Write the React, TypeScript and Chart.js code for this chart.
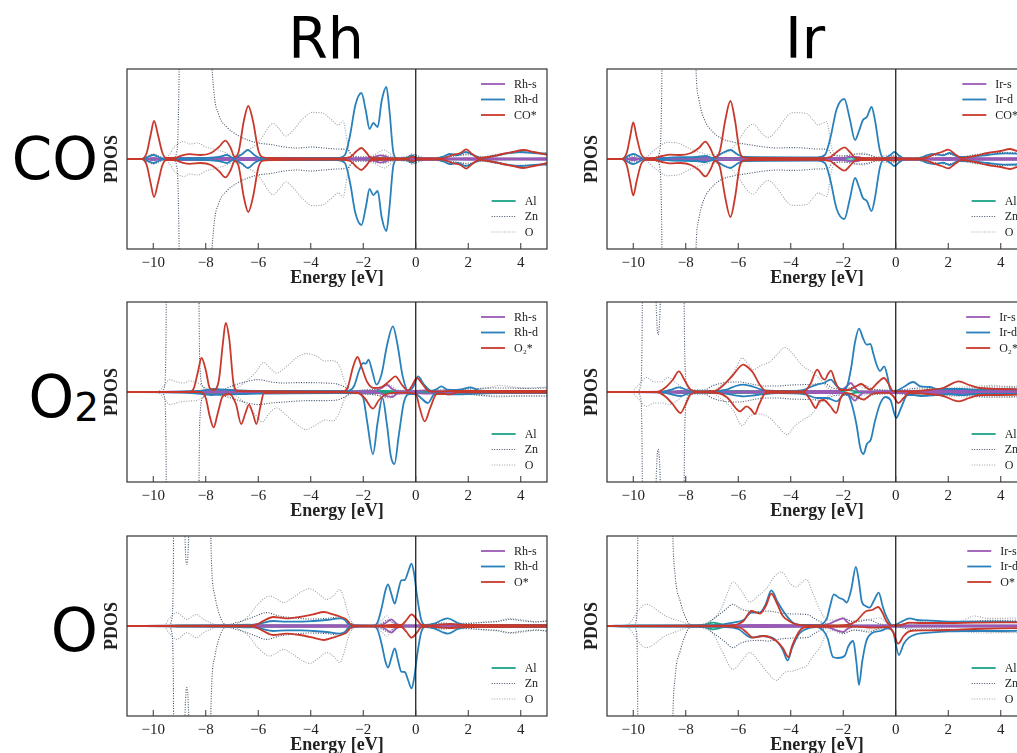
import React, { useEffect, useRef } from "react";
import { Chart, registerables } from "chart.js";
Chart.register(...registerables);

type Pts = [number, number][];

const X_MIN = -11;
const X_MAX = 5;
const Y_LIM = 4.5;
const xTickValues = [-10, -8, -6, -4, -2, 0, 2, 4];
const xTickLabels = ["\u221210", "\u22128", "\u22126", "\u22124", "\u22122", "0", "2", "4"];
const columnTitles = ["Rh", "Ir"];
const adsLabels = ["CO*", "O\u2082*", "O*"];
const substrateLabels = ["Al", "Zn", "O"];

// ---------- Rh / CO* (spin up = spin down) ----------
const rhCO_ads: Pts = [[-11,0],[-10.45,0],[-10.25,0.3],[-10.1,1.2],[-9.97,1.9],[-9.82,1.2],[-9.65,0.3],[-9.5,0.05],[-9.2,0.05],[-8.9,0.18],[-8.6,0.24],[-8.2,0.2],[-7.8,0.3],[-7.5,0.6],[-7.25,0.92],[-7.05,0.55],[-6.9,0.1],[-6.75,0.35],[-6.55,1.9],[-6.38,2.65],[-6.2,1.9],[-6.0,0.45],[-5.85,0.1],[-5.5,0.05],[-3,0.03],[-2.5,0.1],[-2.25,0.4],[-2.07,0.55],[-1.9,0.35],[-1.7,0.05],[-0.3,0.03],[-0.12,0.12],[0.05,0.03],[1.0,0.03],[1.4,0.2],[1.7,0.3],[1.92,0.48],[2.15,0.25],[2.4,0.05],[2.8,0.1],[3.3,0.25],[3.7,0.35],[4.1,0.45],[4.5,0.35],[5,0.2]];
const rhCO_d: Pts = [[-11,0],[-10.4,0],[-10.2,0.1],[-10,0.2],[-9.8,0.1],[-9.6,0.02],[-9,0.03],[-8,0.05],[-7.5,0.1],[-7.2,0.2],[-6.95,0.05],[-6.6,0.25],[-6.4,0.45],[-6.15,0.2],[-5.9,0.05],[-3,0.05],[-2.7,0.2],[-2.5,1.2],[-2.3,2.7],[-2.07,3.3],[-1.9,2.4],[-1.76,1.5],[-1.62,1.8],[-1.45,1.6],[-1.3,2.9],[-1.12,3.6],[-1.0,2.4],[-0.85,0.3],[-0.7,0.02],[-0.35,0.05],[-0.15,0.18],[0.05,0.05],[0.3,0.02],[0.8,0.03],[1.1,0.15],[1.3,0.25],[1.6,0.2],[1.9,0.35],[2.2,0.2],[2.5,0.05],[3,0.15],[3.5,0.28],[4,0.35],[4.5,0.3],[5,0.25]];
const rhCO_s: Pts = [[-11,0],[-10.3,0],[-10,0.06],[-9.7,0],[-9,0.05],[-6,0.05],[-4,0.04],[-2,0.04],[-1.6,0.08],[-1.35,0.18],[-1.15,0.12],[-0.9,0.02],[0,0.05],[1,0.03],[2,0.04],[3,0.03],[5,0.04]];
const rhCO_al: Pts = [[-11,0],[-10.2,0],[-10,0.04],[-9.8,0],[-8,0.03],[-6.3,0.06],[-4,0.04],[-2,0.02],[-1.6,0.05],[0,0.02],[2,0.02],[5,0.02]];
const rhCO_zn: Pts = [[-11,0],[-10.4,0],[-10.2,0.15],[-10,0.25],[-9.8,0.15],[-9.55,0.03],[-9.2,0.1],[-9.08,0.6],[-9.03,3],[-8.98,8],[-8.9,14],[-7.9,14],[-7.8,6],[-7.7,3.5],[-7.5,2.2],[-7.2,1.6],[-6.8,1.2],[-6.4,0.95],[-6,0.8],[-5.5,0.72],[-5,0.6],[-4.5,0.55],[-4,0.6],[-3.5,0.55],[-3,0.5],[-2.6,0.45],[-2.4,0.15],[-2.0,0.1],[-1.5,0.15],[-1.2,0.2],[-1.0,0.12],[-0.8,0.03],[-0.3,0.1],[-0.15,0.25],[0,0.2],[0.2,0.1],[0.5,0.02],[1,0.1],[1.5,0.15],[2,0.25],[2.5,0.1],[3,0.2],[3.5,0.3],[4,0.35],[4.5,0.3],[5,0.3]];
const rhCO_o: Pts = [[-11,0],[-9.6,0],[-9.4,0.2],[-9.2,0.6],[-8.85,0.87],[-8.6,0.75],[-8.3,0.8],[-8.0,0.6],[-7.7,0.5],[-7.3,0.35],[-7.0,0.2],[-6.8,0.2],[-6.5,0.4],[-6.2,0.6],[-5.9,1.0],[-5.6,1.6],[-5.43,1.78],[-5.2,1.5],[-4.95,1.15],[-4.7,1.4],[-4.3,2.0],[-3.95,2.33],[-3.55,2.3],[-3.2,1.95],[-2.95,1.7],[-2.77,1.9],[-2.6,0.8],[-2.45,0.2],[-2,0.1],[-1.6,0.2],[-1.2,0.45],[-1.0,0.3],[-0.8,0.05],[-0.2,0.15],[0,0.12],[0.3,0.03],[1,0.1],[2,0.2],[2.5,0.1],[3,0.2],[3.5,0.3],[4,0.3],[4.5,0.28],[5,0.32]];

// ---------- Ir / CO* (spin up = spin down) ----------
const irCO_ads: Pts = [[-11,0],[-10.45,0],[-10.25,0.3],[-10.12,1.1],[-10,1.83],[-9.87,1.1],[-9.7,0.25],[-9.5,0.04],[-9.2,0.05],[-8.9,0.15],[-8.6,0.22],[-8.2,0.2],[-7.8,0.3],[-7.5,0.55],[-7.25,0.87],[-7.05,0.5],[-6.9,0.1],[-6.7,0.4],[-6.5,1.9],[-6.3,2.9],[-6.12,1.9],[-5.95,0.4],[-5.8,0.08],[-5.4,0.05],[-3,0.04],[-2.5,0.1],[-2.2,0.4],[-1.95,0.58],[-1.75,0.35],[-1.5,0.05],[-0.3,0.04],[-0.1,0.08],[0.1,0.03],[1,0.03],[1.5,0.25],[1.75,0.35],[2,0.47],[2.25,0.25],[2.5,0.05],[3,0.15],[3.5,0.3],[4,0.4],[4.35,0.5],[4.7,0.35],[5,0.25]];
const irCO_d: Pts = [[-11,0],[-10.4,0],[-10.2,0.15],[-10,0.25],[-9.8,0.15],[-9.6,0.02],[-9,0.03],[-8.5,0.08],[-7.6,0.1],[-7.25,0.15],[-6.95,0.05],[-6.6,0.3],[-6.3,0.45],[-6.05,0.25],[-5.8,0.1],[-3,0.08],[-2.7,0.2],[-2.5,1.0],[-2.25,2.5],[-1.96,3.0],[-1.75,2.0],[-1.55,0.95],[-1.4,1.4],[-1.25,1.95],[-1.1,2.1],[-0.92,2.6],[-0.8,2.0],[-0.6,0.4],[-0.45,0.03],[-0.2,0.2],[-0.05,0.35],[0.1,0.2],[0.35,0.02],[0.9,0.03],[1.2,0.2],[1.5,0.25],[1.8,0.18],[2.05,0.3],[2.4,0.1],[3,0.12],[3.5,0.2],[4.2,0.28],[5,0.25]];
const irCO_s: Pts = [[-11,0],[-10.3,0],[-10,0.05],[-9.7,0],[-9,0.05],[-6.3,0.06],[-4,0.04],[-2,0.05],[-1.8,0.1],[-1.6,0.12],[-1.3,0.06],[-0.9,0.02],[0,0.06],[1,0.03],[2,0.05],[3,0.04],[5,0.05]];
const irCO_al: Pts = [[-11,0],[-10.2,0],[-10,0.04],[-9.8,0],[-8,0.03],[-6.3,0.06],[-4,0.04],[-2,0.04],[-1.7,0.07],[-1.4,0.02],[0,0.02],[2,0.02],[5,0.02]];
const irCO_zn: Pts = [[-11,0],[-10.4,0],[-10.2,0.1],[-10,0.15],[-9.8,0.1],[-9.5,0.02],[-9.1,0.1],[-8.97,0.6],[-8.92,3],[-8.88,8],[-8.8,14],[-7.7,14],[-7.62,5],[-7.5,3],[-7.3,2],[-7.0,1.4],[-6.6,1.0],[-6.2,0.85],[-5.5,0.7],[-5,0.6],[-4.5,0.55],[-4,0.57],[-3.5,0.55],[-3,0.5],[-2.6,0.48],[-2.4,0.2],[-2,0.15],[-1.5,0.25],[-1.0,0.2],[-0.6,0.05],[-0.1,0.15],[0.2,0.05],[0.6,0.02],[1,0.1],[1.5,0.18],[2,0.25],[2.5,0.1],[3,0.2],[3.5,0.28],[4,0.32],[4.5,0.3],[5,0.3]];
const irCO_o: Pts = [[-11,0],[-9.6,0],[-9.4,0.2],[-9.1,0.55],[-8.7,0.83],[-8.3,0.8],[-7.9,0.55],[-7.5,0.35],[-7.0,0.2],[-6.7,0.25],[-6.3,0.45],[-6.0,0.9],[-5.7,1.5],[-5.43,1.75],[-5.15,1.35],[-4.86,1.08],[-4.5,1.5],[-4.1,2.2],[-3.9,2.32],[-3.4,2.28],[-3.15,1.95],[-2.95,1.7],[-2.63,1.87],[-2.45,0.6],[-2.3,0.2],[-2,0.15],[-1.5,0.25],[-1.2,0.3],[-0.8,0.1],[-0.2,0.2],[0.1,0.12],[0.4,0.03],[1,0.1],[2,0.25],[2.5,0.12],[3,0.22],[3.5,0.3],[4,0.35],[4.5,0.32],[5,0.35]];

// ---------- Rh / O2* ----------
const rhO2_ads_up: Pts = [[-11,0],[-8.6,0],[-8.45,0.2],[-8.3,1.0],[-8.16,1.7],[-8.0,1.1],[-7.85,0.2],[-7.7,0.1],[-7.5,0.6],[-7.35,2.4],[-7.24,3.45],[-7.1,2.6],[-6.95,0.5],[-6.8,0.05],[-2.8,0.02],[-2.6,0.2],[-2.4,1.2],[-2.22,1.75],[-2.05,1.2],[-1.85,0.5],[-1.6,0.2],[-1.3,0.25],[-1.0,0.55],[-0.77,0.78],[-0.55,0.4],[-0.3,0.07],[-0.15,0.3],[0.05,0.7],[0.25,0.4],[0.5,0.05],[0.8,0.02],[1.3,0.05],[2,0.05],[5,0.05]];
const rhO2_ads_dn: Pts = [[-11,0],[-8.2,0],[-8.0,0.3],[-7.85,1.2],[-7.7,1.77],[-7.55,1.1],[-7.35,0.2],[-7.1,0.1],[-6.85,0.6],[-6.65,1.6],[-6.5,1.1],[-6.35,0.63],[-6.2,1.1],[-6.07,1.6],[-5.93,0.8],[-5.78,0.05],[-2.8,0.02],[-2.2,0.05],[-1.95,0.3],[-1.63,0.83],[-1.4,0.4],[-1.1,0.1],[-0.5,0.03],[0,0.1],[0.15,0.8],[0.34,1.47],[0.55,0.8],[0.8,0.1],[1.0,0.1],[1.3,0.12],[1.6,0.02],[5,0.03]];
const rhO2_d_up: Pts = [[-11,0],[-9,0.02],[-8.3,0.05],[-8,0.1],[-7.7,0.15],[-7.3,0.12],[-7,0.1],[-6,0.05],[-3,0.05],[-2.6,0.05],[-2.35,0.3],[-2.15,1.1],[-2.0,1.45],[-1.9,1.42],[-1.8,1.62],[-1.65,1.0],[-1.5,0.37],[-1.3,0.9],[-1.1,2.3],[-0.87,3.28],[-0.7,2.4],[-0.5,0.8],[-0.3,0.08],[-0.1,0.25],[0.09,0.78],[0.3,0.4],[0.6,0.05],[0.8,0.15],[0.97,0.28],[1.2,0.12],[1.6,0.1],[2.1,0.23],[2.4,0.08],[3,0.05],[5,0.05]];
const rhO2_d_dn: Pts = [[-11,0],[-9,0.02],[-8.3,0.08],[-7.8,0.15],[-7.2,0.12],[-6.5,0.1],[-6,0.08],[-3,0.05],[-2.2,0.05],[-2.0,0.3],[-1.85,1.5],[-1.63,3.1],[-1.45,1.5],[-1.27,0.3],[-1.1,1.6],[-0.95,3.2],[-0.81,3.6],[-0.65,2.2],[-0.45,0.5],[-0.22,0.1],[0,0.1],[0.2,0.3],[0.46,0.55],[0.7,0.1],[0.9,0.03],[1.2,0.12],[2,0.1],[3,0.05],[5,0.05]];
const rhO2_s_up: Pts = [[-11,0],[-9,0.02],[-7,0.04],[-3,0.03],[-1.6,0.05],[-1.3,0.2],[-1.1,0.37],[-0.9,0.15],[-0.6,0.03],[0,0.05],[0.4,0.08],[1,0.03],[5,0.04]];
const rhO2_s_dn: Pts = [[-11,0],[-9,0.02],[-7,0.04],[-3,0.03],[-1.4,0.05],[-1.1,0.2],[-0.9,0.25],[-0.7,0.08],[0,0.05],[0.4,0.08],[1,0.03],[5,0.04]];
const rhO2_al: Pts = [[-11,0],[-9.5,0],[-8.5,0.03],[-7.5,0.06],[-6,0.05],[-4.5,0.05],[-3,0.03],[-1.2,0.05],[0,0.02],[5,0.02]];
const rhO2_zn_up: Pts = [[-11,0],[-9.7,0],[-9.58,0.2],[-9.52,2],[-9.47,10],[-8.3,10],[-8.23,1.5],[-8.1,0.25],[-7.8,0.1],[-7.3,0.15],[-7.0,0.3],[-6.5,0.5],[-6.0,0.62],[-5.5,0.5],[-5,0.45],[-4.5,0.47],[-4,0.47],[-3.5,0.45],[-3,0.4],[-2.7,0.25],[-2.4,0.05],[-2,0.1],[-1.5,0.15],[-1.1,0.3],[-0.8,0.1],[0,0.05],[1,0.1],[2,0.15],[3,0.2],[3.5,0.2],[4,0.18],[5,0.2]];
const rhO2_zn_dn: Pts = [[-11,0],[-9.7,0],[-9.58,0.2],[-9.52,2],[-9.47,10],[-8.3,10],[-8.23,1.5],[-8.1,0.25],[-7.8,0.1],[-7.3,0.2],[-6.8,0.4],[-6.4,0.55],[-6.0,0.63],[-5.5,0.55],[-5,0.5],[-4.5,0.45],[-4,0.43],[-3.5,0.43],[-3,0.4],[-2.7,0.25],[-2.4,0.05],[-2,0.1],[-1.5,0.15],[-1.1,0.25],[-0.8,0.1],[0,0.05],[1,0.1],[2,0.12],[3,0.2],[4,0.2],[5,0.2]];
const rhO2_o_up: Pts = [[-11,0],[-9.85,0],[-9.6,0.3],[-9.37,0.62],[-9.1,0.5],[-8.86,0.45],[-8.6,0.55],[-8.3,0.45],[-8.0,0.2],[-7.8,0.05],[-7.2,0.05],[-6.9,0.15],[-6.4,0.6],[-6.07,1.03],[-5.8,1.48],[-5.55,1.2],[-5.3,0.95],[-4.9,1.3],[-4.5,1.75],[-4.17,1.92],[-3.8,1.8],[-3.45,1.55],[-3.15,1.57],[-2.9,1.3],[-2.7,0.5],[-2.5,0.15],[-2.2,0.05],[-1.5,0.15],[-1.0,0.35],[-0.7,0.1],[0,0.08],[1,0.1],[2,0.15],[2.7,0.2],[3.2,0.33],[3.7,0.25],[4.2,0.2],[5,0.25]];
const rhO2_o_dn: Pts = [[-11,0],[-9.85,0],[-9.6,0.3],[-9.37,0.63],[-9.0,0.5],[-8.6,0.45],[-8.3,0.4],[-8.0,0.2],[-7.8,0.05],[-7.2,0.05],[-6.9,0.15],[-6.4,0.7],[-6.0,1.3],[-5.85,1.5],[-5.6,1.1],[-5.3,0.8],[-4.9,1.2],[-4.5,1.65],[-4.17,1.88],[-3.8,1.65],[-3.45,1.4],[-3.15,1.45],[-2.9,1.0],[-2.7,0.3],[-2.5,0.1],[-1.5,0.15],[-1.0,0.3],[-0.7,0.1],[0,0.08],[1,0.1],[2,0.12],[3.2,0.25],[4,0.2],[5,0.2]];

// ---------- Ir / O2* ----------
const irO2_ads_up: Pts = [[-11,0],[-9.1,0],[-8.8,0.2],[-8.5,0.6],[-8.26,1.03],[-8.05,0.6],[-7.8,0.1],[-7.5,0.02],[-6.9,0.05],[-6.6,0.3],[-6.2,0.85],[-5.81,1.37],[-5.6,1.2],[-5.43,0.95],[-5.2,0.4],[-4.95,0.05],[-3.5,0.03],[-3.25,0.4],[-2.99,1.12],[-2.8,0.7],[-2.7,0.62],[-2.58,0.9],[-2.47,1.07],[-2.3,0.5],[-2.12,0.1],[-1.8,0.1],[-1.5,0.3],[-1.32,0.4],[-1.1,0.2],[-0.98,0.12],[-0.7,0.45],[-0.45,0.7],[-0.25,0.35],[-0.1,0.03],[0.5,0.03],[1.2,0.1],[1.8,0.2],[2.4,0.53],[2.8,0.35],[3.2,0.2],[4,0.15],[5,0.12]];
const irO2_ads_dn: Pts = [[-11,0],[-9.1,0],[-8.8,0.2],[-8.5,0.6],[-8.2,1.05],[-8.0,0.6],[-7.8,0.1],[-7.5,0.02],[-6.8,0.05],[-6.4,0.3],[-6.1,0.8],[-5.94,0.97],[-5.68,0.72],[-5.5,0.9],[-5.37,1.1],[-5.2,0.6],[-4.95,0.05],[-3.5,0.03],[-3.25,0.4],[-3.05,0.8],[-2.9,0.45],[-2.75,0.4],[-2.5,0.7],[-2.27,1.05],[-2.1,0.3],[-1.9,0.05],[-1.5,0.2],[-1.23,0.38],[-0.9,0.1],[-0.3,0.03],[-0.1,0.2],[0.1,0.55],[0.3,0.3],[0.5,0.05],[1.2,0.1],[1.8,0.2],[2.4,0.47],[2.8,0.3],[3.2,0.15],[4,0.15],[5,0.12]];
const irO2_d_up: Pts = [[-11,0],[-9,0],[-8.6,0.1],[-8.25,0.23],[-7.9,0.08],[-7.5,0.02],[-6.5,0.1],[-6.1,0.3],[-5.8,0.37],[-5.4,0.25],[-5,0.08],[-4,0.05],[-3.5,0.1],[-3.25,0.25],[-3.0,0.37],[-2.75,0.45],[-2.48,0.62],[-2.25,0.3],[-2.0,0.12],[-1.85,0.3],[-1.7,1.2],[-1.55,2.5],[-1.4,3.17],[-1.25,2.7],[-1.11,2.37],[-0.97,2.4],[-0.85,1.9],[-0.74,1.4],[-0.6,1.05],[-0.44,1.28],[-0.32,0.8],[-0.2,0.1],[0,0.05],[0.3,0.25],[0.66,0.5],[0.95,0.28],[1.3,0.25],[1.6,0.15],[2,0.15],[2.5,0.15],[3,0.12],[4,0.15],[5,0.12]];
const irO2_d_dn: Pts = [[-11,0],[-9,0],[-8.6,0.1],[-8.2,0.2],[-7.9,0.08],[-7.5,0.02],[-6.5,0.08],[-5.8,0.22],[-5.3,0.15],[-4.5,0.05],[-3.5,0.1],[-3.0,0.3],[-2.6,0.3],[-2.25,0.47],[-2.0,0.15],[-1.85,0.1],[-1.7,0.5],[-1.5,1.6],[-1.35,2.8],[-1.23,3.1],[-1.1,2.6],[-0.95,2.38],[-0.8,1.5],[-0.6,0.6],[-0.4,0.25],[-0.2,0.4],[-0.05,1.1],[0.02,1.3],[0.2,0.8],[0.45,0.15],[0.7,0.15],[1,0.2],[1.5,0.15],[2,0.1],[2.5,0.15],[3,0.1],[5,0.1]];
const irO2_s_up: Pts = [[-11,0],[-8.5,0.03],[-8.2,0.06],[-7.5,0.02],[-4,0.05],[-2.2,0.05],[-1.9,0.25],[-1.72,0.45],[-1.55,0.2],[-1.4,0.03],[0,0.05],[2,0.05],[5,0.05]];
const irO2_s_dn: Pts = [[-11,0],[-8.5,0.03],[-8.2,0.06],[-7.5,0.02],[-4,0.05],[-2.0,0.05],[-1.75,0.2],[-1.55,0.43],[-1.4,0.2],[-1.2,0.03],[0,0.05],[2,0.05],[5,0.05]];
const irO2_al: Pts = [[-11,0],[-9.5,0],[-8,0.03],[-6,0.05],[-4,0.04],[-2,0.04],[-1.8,0.1],[-1.5,0.03],[0,0.02],[5,0.02]];
const irO2_zn: Pts = [[-11,0],[-9.9,0],[-9.72,0.3],[-9.67,2],[-9.62,10],[-9.2,10],[-9.14,5],[-9.05,2.87],[-8.96,5],[-8.9,10],[-8.1,10],[-8.04,2],[-7.95,0.3],[-7.8,0.1],[-7.3,0.1],[-7.0,0.3],[-6.6,0.45],[-5.94,0.5],[-5.5,0.4],[-5,0.3],[-4.5,0.3],[-4,0.35],[-3.5,0.37],[-3.0,0.4],[-2.76,0.45],[-2.4,0.2],[-2.0,0.15],[-1.6,0.25],[-1.25,0.37],[-0.9,0.15],[-0.5,0.1],[0,0.08],[0.5,0.15],[1,0.2],[2,0.15],[3,0.2],[3.5,0.25],[4,0.25],[5,0.22]];
const irO2_o_up: Pts = [[-11,0],[-10.1,0],[-9.8,0.35],[-9.49,0.73],[-9.2,0.5],[-8.95,0.5],[-8.67,0.73],[-8.4,0.5],[-8.0,0.1],[-7.6,0.03],[-7.0,0.05],[-6.6,0.4],[-6.3,0.7],[-6.05,1.3],[-5.85,1.7],[-5.6,1.35],[-5.43,1.12],[-5.1,1.35],[-4.8,1.5],[-4.5,1.9],[-4.23,2.23],[-3.95,1.95],[-3.6,1.37],[-3.15,0.95],[-2.85,0.6],[-2.58,0.2],[-2.2,0.08],[-1.8,0.15],[-1.5,0.3],[-1.2,0.2],[-0.6,0.1],[0,0.05],[1,0.12],[2,0.2],[2.6,0.25],[3.2,0.3],[3.7,0.33],[4.3,0.28],[5,0.3]];
const irO2_o_dn: Pts = [[-11,0],[-10.1,0],[-9.8,0.35],[-9.49,0.72],[-9.2,0.55],[-8.9,0.55],[-8.67,0.63],[-8.4,0.5],[-8.0,0.1],[-7.6,0.03],[-7.0,0.05],[-6.6,0.4],[-6.2,0.9],[-5.85,1.68],[-5.55,1.2],[-5.2,1.1],[-4.8,1.3],[-4.5,1.7],[-4.14,2.13],[-3.85,1.7],[-3.6,1.45],[-3.2,1.1],[-2.85,0.5],[-2.58,0.2],[-2.2,0.08],[-1.5,0.25],[-1.2,0.15],[0,0.05],[1,0.1],[2,0.2],[3,0.25],[4,0.25],[5,0.25]];

// ---------- Rh / O* (spin up = spin down) ----------
const rhO_ads: Pts = [[-11,0],[-6.3,0.02],[-6.05,0.08],[-5.81,0.25],[-5.43,0.45],[-4.93,0.38],[-4.42,0.45],[-3.91,0.58],[-3.5,0.7],[-3.15,0.58],[-2.85,0.45],[-2.64,0.33],[-2.45,0.05],[-2.2,0.02],[-1.2,0.03],[-0.9,0.05],[-0.55,0.05],[-0.35,0.3],[-0.16,0.58],[0.03,0.35],[0.22,0.05],[0.5,0.03],[1.0,0.08],[1.3,0.1],[1.8,0.05],[5,0.04]];
const rhO_d: Pts = [[-11,0],[-9,0.02],[-6.5,0.03],[-5.94,0.12],[-5.43,0.25],[-4.93,0.22],[-4.4,0.22],[-3.9,0.25],[-3.4,0.3],[-2.9,0.38],[-2.7,0.3],[-2.55,0.08],[-2.3,0.02],[-1.6,0.02],[-1.45,0.2],[-1.3,0.9],[-1.15,1.8],[-1.06,2.08],[-0.93,1.6],[-0.8,1.12],[-0.68,1.7],[-0.55,2.28],[-0.42,2.3],[-0.28,2.75],[-0.16,3.12],[-0.06,2.6],[0.05,1.5],[0.2,0.35],[0.35,0.05],[0.7,0.12],[1.0,0.3],[1.22,0.38],[1.6,0.15],[2,0.05],[5,0.05]];
const rhO_s: Pts = [[-11,0],[-9,0.02],[-5,0.04],[-3,0.04],[-1.4,0.02],[-1.15,0.15],[-0.93,0.33],[-0.72,0.1],[-0.5,0.03],[0,0.03],[2,0.02],[5,0.02]];
const rhO_al: Pts = [[-11,0],[-9.5,0],[-9,0.03],[-7,0.03],[-6.4,0.07],[-6.0,0.04],[-4,0.03],[-2,0.02],[5,0.02]];
const rhO_zn: Pts = [[-11,0],[-9.4,0],[-9.3,0.3],[-9.24,2],[-9.2,10],[-8.85,10],[-8.8,5],[-8.72,3.08],[-8.64,5],[-8.58,10],[-7.85,10],[-7.8,4],[-7.65,1.5],[-7.4,0.3],[-7.2,0.05],[-6.9,0.15],[-6.5,0.3],[-6.1,0.5],[-5.69,0.67],[-5.2,0.5],[-4.6,0.4],[-4,0.35],[-3.4,0.38],[-2.9,0.45],[-2.6,0.25],[-2.3,0.05],[-1.7,0.02],[-1.3,0.15],[-1.05,0.3],[-0.8,0.1],[-0.3,0.05],[0.3,0.05],[1,0.15],[1.5,0.1],[2,0.12],[2.6,0.18],[3.1,0.22],[3.6,0.33],[4.1,0.25],[4.6,0.2],[5,0.25]];
const rhO_o: Pts = [[-11,0],[-9.6,0],[-9.4,0.35],[-9.1,0.67],[-8.9,0.5],[-8.73,0.33],[-8.55,0.45],[-8.35,0.58],[-8.1,0.35],[-7.8,0.15],[-7.4,0.03],[-7.0,0.05],[-6.6,0.25],[-6.3,0.6],[-6.07,1.0],[-5.8,1.35],[-5.56,1.5],[-5.3,1.35],[-5.05,1.17],[-4.7,1.4],[-4.3,1.75],[-4.04,1.87],[-3.7,1.6],[-3.4,1.33],[-3.1,1.55],[-2.9,1.83],[-2.72,1.3],[-2.58,0.6],[-2.4,0.15],[-2.1,0.03],[-1.6,0.05],[-1.3,0.3],[-1.1,0.5],[-0.9,0.2],[-0.6,0.05],[0,0.05],[1,0.12],[2,0.15],[2.6,0.2],[3.1,0.25],[3.6,0.37],[4.1,0.3],[4.6,0.22],[5,0.25]];

// ---------- Ir / O* ----------
const irO_ads_up: Pts = [[-11,0],[-6.5,0.02],[-6.0,0.1],[-5.8,0.25],[-5.5,0.75],[-5.18,0.62],[-4.95,1.0],[-4.74,1.62],[-4.55,1.2],[-4.3,0.5],[-4.0,0.2],[-3.78,0.08],[-3.3,0.03],[-2.2,0.03],[-1.87,0.05],[-1.5,0.25],[-1.12,0.75],[-0.9,0.8],[-0.67,0.95],[-0.5,0.65],[-0.36,0.25],[-0.17,0.02],[0.2,0.05],[0.53,0.17],[1.0,0.15],[2,0.15],[3,0.17],[4,0.18],[5,0.18]];
const irO_ads_dn: Pts = [[-11,0],[-6.5,0.02],[-5.9,0.1],[-5.7,0.3],[-5.43,0.58],[-5.05,0.5],[-4.55,0.75],[-4.3,1.1],[-4.09,1.55],[-3.95,1.0],[-3.78,0.5],[-3.6,0.15],[-3.4,0.05],[-1.5,0.03],[-0.9,0.08],[-0.3,0.05],[-0.1,0.3],[0.09,0.88],[0.3,0.5],[0.55,0.25],[1,0.22],[2,0.2],[3,0.15],[4,0.12],[5,0.1]];
const irO_d_up: Pts = [[-11,0],[-10,0.03],[-8,0.03],[-6.8,0.05],[-6.2,0.17],[-5.8,0.3],[-5.5,0.67],[-5.18,0.67],[-4.95,1.1],[-4.74,1.78],[-4.5,1.2],[-4.2,0.58],[-3.9,0.15],[-3.5,0.05],[-3.0,0.05],[-2.64,0.33],[-2.5,1.0],[-2.36,1.58],[-2.15,1.4],[-2.0,1.33],[-1.87,1.17],[-1.7,1.8],[-1.52,2.95],[-1.4,2.2],[-1.3,1.25],[-1.15,1.0],[-1.0,0.92],[-0.82,1.3],[-0.65,1.67],[-0.5,1.0],[-0.42,0.67],[-0.25,0.2],[-0.12,0.02],[0.2,0.2],[0.53,0.38],[0.8,0.3],[1.2,0.28],[2,0.22],[3,0.22],[4,0.22],[5,0.2]];
const irO_d_dn: Pts = [[-11,0],[-10,0.03],[-8,0.03],[-6.5,0.05],[-6.0,0.15],[-5.5,0.58],[-5.1,0.5],[-4.6,0.67],[-4.3,1.2],[-4.12,1.72],[-3.95,1.1],[-3.7,0.42],[-3.3,0.1],[-3.0,0.05],[-2.75,0.25],[-2.6,0.6],[-2.39,1.55],[-2.2,1.6],[-1.95,1.5],[-1.8,1.0],[-1.62,0.75],[-1.5,1.8],[-1.4,2.95],[-1.28,1.8],[-1.12,0.75],[-0.9,0.35],[-0.6,0.25],[-0.3,0.12],[-0.1,0.3],[0.12,1.45],[0.3,0.9],[0.5,0.58],[0.8,0.4],[1.3,0.33],[2,0.27],[3,0.25],[4,0.25],[5,0.22]];
const irO_s_up: Pts = [[-11,0],[-8,0.02],[-5,0.05],[-3,0.03],[-2.6,0.08],[-2.3,0.25],[-2.0,0.38],[-1.85,0.2],[-1.6,0.03],[0,0.03],[5,0.03]];
const irO_s_dn: Pts = [[-11,0],[-8,0.02],[-5,0.05],[-3,0.03],[-2.6,0.05],[-2.3,0.2],[-2.0,0.3],[-1.85,0.15],[-1.6,0.03],[0,0.03],[5,0.03]];
const irO_al: Pts = [[-11,0],[-10,0.02],[-8,0.02],[-7.3,0.05],[-6.95,0.17],[-6.7,0.1],[-6.4,0.03],[-4,0.03],[-2,0.02],[5,0.02]];
const irO_zn: Pts = [[-11,0],[-10.0,0],[-9.88,0.3],[-9.84,2],[-9.8,10],[-8.55,10],[-8.5,5],[-8.4,2.5],[-8.2,1.2],[-8.0,0.4],[-7.84,0.08],[-7.6,0.05],[-7.2,0.15],[-6.9,0.4],[-6.5,0.8],[-6.2,1.08],[-5.9,0.85],[-5.6,0.75],[-5.2,0.72],[-4.86,0.75],[-4.4,0.65],[-3.9,0.6],[-3.4,0.58],[-3.0,0.3],[-2.6,0.1],[-2.0,0.38],[-1.6,0.2],[-1.0,0.3],[-0.6,0.1],[0,0.05],[0.5,0.15],[1,0.2],[2,0.2],[3,0.25],[3.5,0.28],[4,0.28],[5,0.3]];
const irO_o_up: Pts = [[-11,0],[-10.3,0],[-10.1,0.2],[-9.8,0.8],[-9.49,1.08],[-9.2,0.9],[-9.0,0.7],[-8.6,0.4],[-8.2,0.25],[-7.9,0.08],[-7.5,0.03],[-7.1,0.2],[-6.9,0.4],[-6.6,1.0],[-6.4,1.7],[-6.2,2.2],[-5.9,1.8],[-5.56,1.2],[-5.2,1.55],[-4.93,1.87],[-4.6,2.5],[-4.35,2.7],[-4.0,2.1],[-3.8,1.95],[-3.6,2.15],[-3.4,2.33],[-3.15,1.6],[-2.9,0.83],[-2.6,0.3],[-2.3,0.3],[-2.0,0.42],[-1.7,0.25],[-1.3,0.3],[-0.9,0.35],[-0.6,0.4],[-0.3,0.1],[0,0.05],[0.5,0.12],[1,0.12],[2,0.15],[2.5,0.25],[3,0.5],[3.5,0.38],[4,0.38],[4.5,0.4],[5,0.4]];
const irO_o_dn: Pts = [[-11,0],[-10.3,0],[-10.1,0.2],[-9.8,0.8],[-9.49,1.08],[-9.2,0.9],[-8.8,0.5],[-8.4,0.3],[-8.0,0.1],[-7.5,0.03],[-7.1,0.2],[-6.9,0.5],[-6.6,1.3],[-6.2,2.17],[-5.9,1.8],[-5.56,1.33],[-5.2,1.8],[-4.9,2.3],[-4.55,2.72],[-4.2,2.3],[-3.9,2.25],[-3.6,2.1],[-3.4,2.0],[-3.15,1.5],[-2.9,1.1],[-2.6,0.3],[-2.2,0.2],[-2.0,0.3],[-1.5,0.2],[-0.9,0.2],[-0.3,0.1],[0,0.05],[1,0.12],[2,0.15],[3,0.33],[3.5,0.35],[4,0.33],[5,0.35]];

type Curve = { up: Pts; dn: Pts };
type PanelSpec = {
  metal: string; ads: string; left: number; top: number;
  a: Curve; d: Curve; s: Curve; al: Curve; zn: Curve; o: Curve;
};
const same = (p: Pts): Curve => ({ up: p, dn: p });

const PLOT_W = 420;
const PLOT_H = 180;
const PAD_L = 25;
const PAD_T = 5;
const PAD_R = 5;
const AXIS_H = 40;

const panels: PanelSpec[] = [
  { metal: "Rh", ads: adsLabels[0], left: 127, top: 69,
    a: same(rhCO_ads), d: same(rhCO_d), s: same(rhCO_s), al: same(rhCO_al), zn: same(rhCO_zn), o: same(rhCO_o) },
  { metal: "Ir", ads: adsLabels[0], left: 607, top: 69,
    a: same(irCO_ads), d: same(irCO_d), s: same(irCO_s), al: same(irCO_al), zn: same(irCO_zn), o: same(irCO_o) },
  { metal: "Rh", ads: adsLabels[1], left: 127, top: 302,
    a: { up: rhO2_ads_up, dn: rhO2_ads_dn }, d: { up: rhO2_d_up, dn: rhO2_d_dn }, s: { up: rhO2_s_up, dn: rhO2_s_dn },
    al: same(rhO2_al), zn: { up: rhO2_zn_up, dn: rhO2_zn_dn }, o: { up: rhO2_o_up, dn: rhO2_o_dn } },
  { metal: "Ir", ads: adsLabels[1], left: 607, top: 302,
    a: { up: irO2_ads_up, dn: irO2_ads_dn }, d: { up: irO2_d_up, dn: irO2_d_dn }, s: { up: irO2_s_up, dn: irO2_s_dn },
    al: same(irO2_al), zn: same(irO2_zn), o: { up: irO2_o_up, dn: irO2_o_dn } },
  { metal: "Rh", ads: adsLabels[2], left: 127, top: 536,
    a: same(rhO_ads), d: same(rhO_d), s: same(rhO_s), al: same(rhO_al), zn: same(rhO_zn), o: same(rhO_o) },
  { metal: "Ir", ads: adsLabels[2], left: 607, top: 536,
    a: { up: irO_ads_up, dn: irO_ads_dn }, d: { up: irO_d_up, dn: irO_d_dn }, s: { up: irO_s_up, dn: irO_s_dn },
    al: same(irO_al), zn: same(irO_zn), o: { up: irO_o_up, dn: irO_o_dn } },
];

const STYLE: Record<string, { color: string; width: number; dash: number[] }> = {
  a: { color: "#c8392c", width: 1.8, dash: [] },
  d: { color: "#2a80ba", width: 1.8, dash: [] },
  s: { color: "#9b59b6", width: 1.8, dash: [] },
  al: { color: "#1aa386", width: 1.8, dash: [] },
  zn: { color: "#3f5066", width: 1.1, dash: [1, 1.5] },
  o: { color: "#9aa2a7", width: 1.1, dash: [1, 1.5] },
};
const DRAW_ORDER = ["a", "d", "s", "al", "zn", "o"];
const SERIF = "'Liberation Serif', 'DejaVu Serif', serif";
const SANS = "'DejaVu Sans', sans-serif";

function PanelChart({ p }: { p: PanelSpec }) {
  const ref = useRef<HTMLCanvasElement | null>(null);
  useEffect(() => {
    const canvas = ref.current;
    if (!canvas) return;
    const datasets: any[] = [];
    DRAW_ORDER.forEach((k) => {
      const c = (p as any)[k] as Curve;
      const st = STYLE[k];
      ([["up", 1], ["dn", -1]] as [keyof Curve, number][]).forEach(([spin, sign]) => {
        datasets.push({
          data: c[spin].map(([x, y]) => ({ x, y: sign * y })),
          borderColor: st.color,
          borderWidth: st.width,
          borderDash: st.dash,
          pointRadius: 0,
          fill: false,
          cubicInterpolationMode: "monotone",
        });
      });
    });

    const topLegend = [
      { label: p.metal + "-s", st: STYLE.s },
      { label: p.metal + "-d", st: STYLE.d },
      { label: p.ads, st: STYLE.a },
    ];
    const bottomLegend = [
      { label: substrateLabels[0], st: STYLE.al },
      { label: substrateLabels[1], st: STYLE.zn },
      { label: substrateLabels[2], st: STYLE.o },
    ];

    const decor = {
      id: "decor",
      afterDatasetsDraw(chart: any) {
        const ctx = chart.ctx;
        const area = chart.chartArea;
        const xs = chart.scales.x;
        ctx.save();
        const x0 = xs.getPixelForValue(0);
        ctx.strokeStyle = "#111";
        ctx.lineWidth = 1.2;
        ctx.setLineDash([]);
        ctx.beginPath();
        ctx.moveTo(x0, area.top);
        ctx.lineTo(x0, area.bottom);
        ctx.stroke();
        ctx.strokeStyle = "#333";
        ctx.lineWidth = 1.2;
        ctx.strokeRect(area.left, area.top, area.right - area.left, area.bottom - area.top);
        ctx.lineWidth = 1;
        xTickValues.forEach((v) => {
          const px = xs.getPixelForValue(v);
          ctx.beginPath();
          ctx.moveTo(px, area.bottom);
          ctx.lineTo(px, area.bottom - 6);
          ctx.stroke();
        });
        ctx.font = "12px " + SERIF;
        ctx.textBaseline = "middle";
        ctx.textAlign = "left";
        const drawGroup = (items: any[], ys: number[]) => {
          const maxW = Math.max(...items.map((it) => ctx.measureText(it.label).width));
          const tx = area.right - 9 - maxW;
          items.forEach((it, i) => {
            const y = ys[i];
            ctx.strokeStyle = it.st.color;
            ctx.lineWidth = it.st.width;
            ctx.setLineDash(it.st.dash);
            ctx.beginPath();
            ctx.moveTo(tx - 33, y);
            ctx.lineTo(tx - 9, y);
            ctx.stroke();
            ctx.setLineDash([]);
            ctx.fillStyle = "#222";
            ctx.fillText(it.label, tx, y + 0.5);
          });
        };
        drawGroup(topLegend, [area.top + 15, area.top + 30.5, area.top + 46]);
        drawGroup(bottomLegend, [area.bottom - 48, area.bottom - 32.5, area.bottom - 17]);
        ctx.restore();
      },
    };

    const chart = new Chart(canvas, {
      type: "line",
      data: { datasets },
      options: {
        responsive: false,
        animation: false,
        events: [],
        layout: { padding: { left: 0, top: PAD_T, right: PAD_R, bottom: 0 } },
        plugins: { legend: { display: false }, tooltip: { enabled: false } },
        scales: {
          x: {
            type: "linear",
            min: X_MIN,
            max: X_MAX,
            afterBuildTicks: (scale: any) => {
              scale.ticks = xTickValues.map((v) => ({ value: v }));
            },
            afterFit: (scale: any) => {
              scale.height = AXIS_H;
            },
            ticks: {
              autoSkip: false,
              maxRotation: 0,
              minRotation: 0,
              padding: 5,
              color: "#222",
              font: { family: SERIF, size: 15 },
              callback: (value: any) => {
                const i = xTickValues.indexOf(Number(value));
                return i >= 0 ? xTickLabels[i] : "";
              },
            },
            grid: { display: false, drawTicks: false },
            border: { display: false },
            title: {
              display: true,
              text: "Energy [eV]",
              color: "#222",
              padding: 0,
              font: { family: SERIF, size: 18, weight: "bold" },
            },
          },
          y: {
            type: "linear",
            min: -Y_LIM,
            max: Y_LIM,
            afterFit: (scale: any) => {
              scale.width = PAD_L;
            },
            ticks: { display: false },
            grid: { display: false, drawTicks: false },
            border: { display: false },
            title: {
              display: true,
              text: "PDOS",
              color: "#222",
              padding: 0,
              font: { family: SERIF, size: 18, weight: "bold" },
            },
          },
        },
      },
      plugins: [decor],
    } as any);
    return () => chart.destroy();
  }, [p]);

  return (
    <canvas
      ref={ref}
      width={PAD_L + PLOT_W + PAD_R}
      height={PAD_T + PLOT_H + AXIS_H}
      style={{ position: "absolute", left: p.left - PAD_L, top: p.top - PAD_T }}
    />
  );
}

const bigText = (size: number): React.CSSProperties => ({
  position: "absolute",
  fontFamily: SANS,
  fontSize: size,
  lineHeight: size + "px",
  color: "#000",
  whiteSpace: "nowrap",
});
// baseline ~ top + 0.846 * fontSize for DejaVu Sans with line-height 1
const topFor = (baseline: number, size: number) => baseline - 0.846 * size;

export default function App() {
  return (
    <div style={{ position: "fixed", left: 0, top: 0, width: 1017, height: 753, overflow: "hidden", background: "#fff" }}>
      <div style={{ ...bigText(57), left: 326, top: topFor(58, 57), transform: "translateX(-50%)" }}>{columnTitles[0]}</div>
      <div style={{ ...bigText(57), left: 805, top: topFor(58, 57), transform: "translateX(-50%)" }}>{columnTitles[1]}</div>
      <div style={{ ...bigText(58), right: 1017 - 98, top: topFor(179, 58), textAlign: "right" }}>CO</div>
      <div style={{ ...bigText(58), right: 1017 - 99, top: topFor(417, 58), textAlign: "right" }}>
        O<span style={{ fontSize: 39, position: "relative", top: 4 }}>2</span>
      </div>
      <div style={{ ...bigText(60), right: 1017 - 98, top: topFor(651, 60), textAlign: "right" }}>O</div>
      {panels.map((p, i) => (
        <PanelChart key={i} p={p} />
      ))}
    </div>
  );
}
